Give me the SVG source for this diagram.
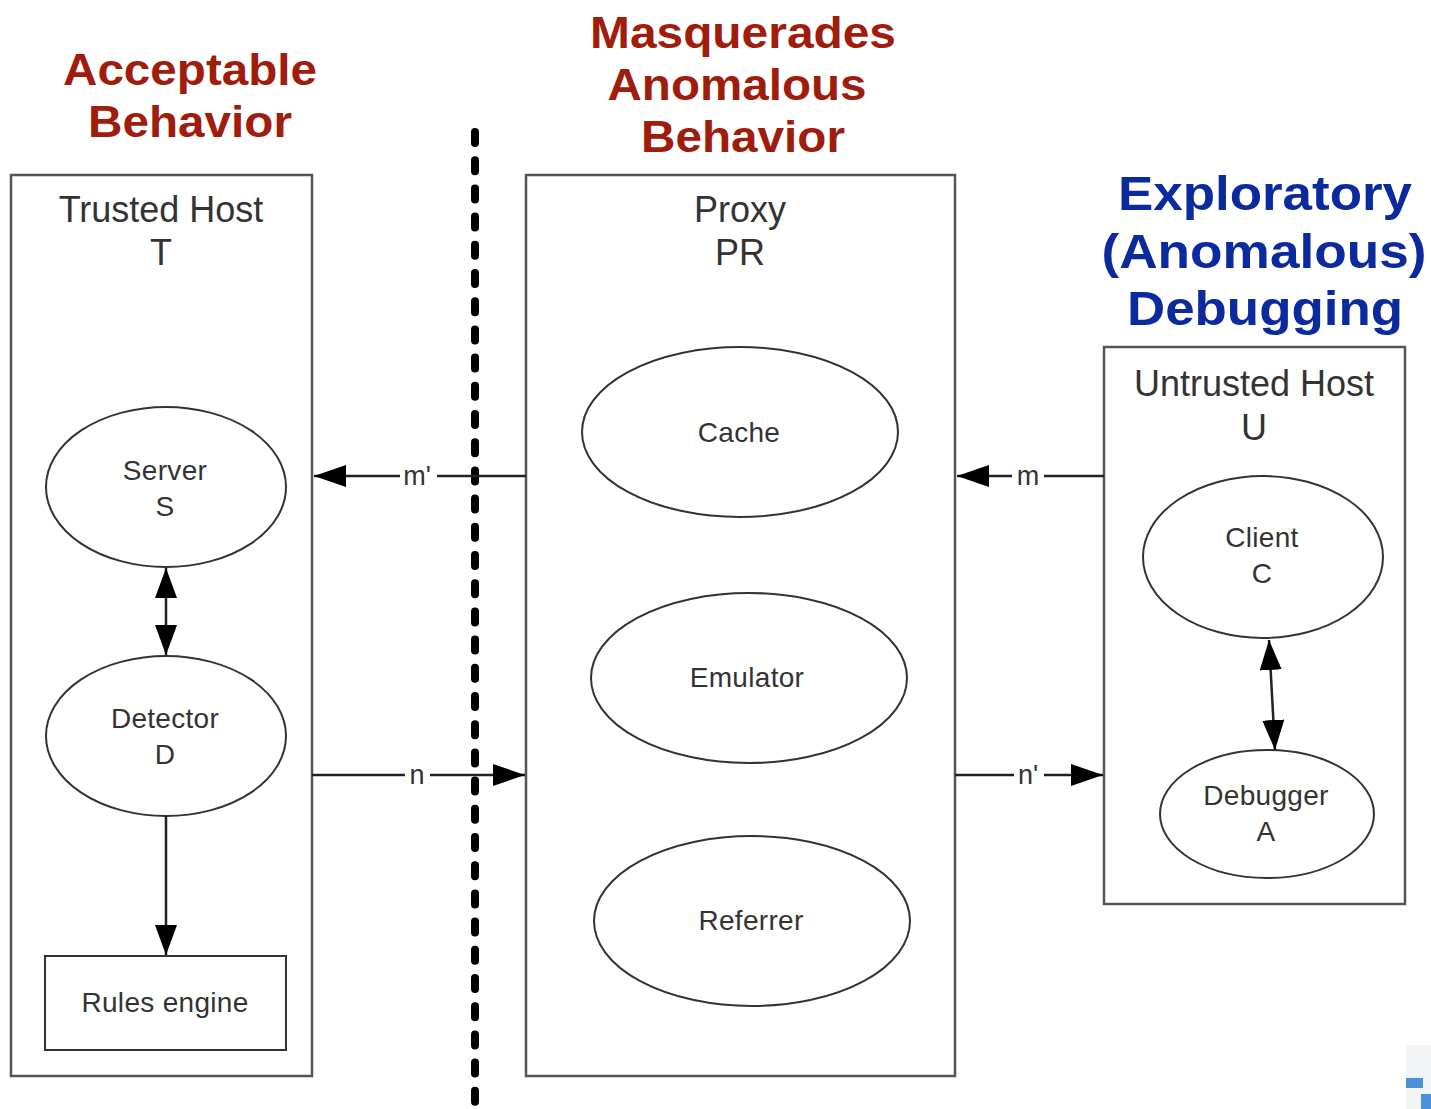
<svg xmlns="http://www.w3.org/2000/svg" width="1431" height="1109" viewBox="0 0 1431 1109">
  <style>
    .box { fill: #fff; stroke: #555; stroke-width: 2.5; }
    .node { fill: #fff; stroke: #333; stroke-width: 2; }
    .title { font-family: "Liberation Sans", Arial, sans-serif; font-size: 36px; fill: #333; text-anchor: middle; }
    .lbl { font-family: "Liberation Sans", Arial, sans-serif; font-size: 28px; fill: #333; text-anchor: middle; letter-spacing: 0.3px; }
    .edge { stroke: #222; stroke-width: 2.5; fill: none; }
    .elbl { font-family: "Liberation Sans", Arial, sans-serif; font-size: 27px; fill: #333; text-anchor: middle; }
    .red { font-family: "Liberation Sans", Arial, sans-serif; font-weight: bold; font-size: 44px; fill: #a01c0c; text-anchor: middle; }
    .blue { font-family: "Liberation Sans", Arial, sans-serif; font-weight: bold; font-size: 49px; fill: #0b2a9e; text-anchor: middle; }
  </style>
  <defs>
    <marker id="arrow" markerUnits="userSpaceOnUse" markerWidth="32" markerHeight="22" refX="32" refY="11" orient="auto-start-reverse">
      <path d="M0,0 L32,11 L0,22 z" fill="#000"/>
    </marker>
    <marker id="arrowV" markerUnits="userSpaceOnUse" markerWidth="30" markerHeight="22" refX="30" refY="11" orient="auto-start-reverse">
      <path d="M0,0 L30,11 L0,22 z" fill="#000"/>
    </marker>
  </defs>

  <rect width="1431" height="1109" fill="#fff"/>

  <!-- headings -->
  <g id="heading-acceptable">
    <text class="red" x="190" y="85" textLength="254" lengthAdjust="spacingAndGlyphs">Acceptable</text>
    <text class="red" x="190" y="137" textLength="204" lengthAdjust="spacingAndGlyphs">Behavior</text>
  </g>
  <g id="heading-masquerades">
    <text class="red" x="743" y="48" textLength="306" lengthAdjust="spacingAndGlyphs">Masquerades</text>
    <text class="red" x="737" y="100" textLength="259" lengthAdjust="spacingAndGlyphs">Anomalous</text>
    <text class="red" x="743" y="152" textLength="204" lengthAdjust="spacingAndGlyphs">Behavior</text>
  </g>
  <g id="heading-exploratory">
    <text class="blue" x="1265" y="210" textLength="294" lengthAdjust="spacingAndGlyphs">Exploratory</text>
    <text class="blue" x="1264" y="268" textLength="325" lengthAdjust="spacingAndGlyphs">(Anomalous)</text>
    <text class="blue" x="1265" y="325" textLength="276" lengthAdjust="spacingAndGlyphs">Debugging</text>
  </g>

  <!-- host containers -->
  <g id="trusted-host">
    <rect class="box" x="11" y="175" width="301" height="901"/>
    <text class="title" x="161" y="222">Trusted Host</text>
    <text class="title" x="161" y="265">T</text>
  </g>
  <g id="proxy">
    <rect class="box" x="526" y="175" width="429" height="901"/>
    <text class="title" x="740" y="222">Proxy</text>
    <text class="title" x="740" y="265">PR</text>
  </g>
  <g id="untrusted-host">
    <rect class="box" x="1104" y="347" width="301" height="557"/>
    <text class="title" x="1254" y="396">Untrusted Host</text>
    <text class="title" x="1254" y="440">U</text>
  </g>

  <!-- trust boundary -->
  <line x1="475" y1="132" x2="475" y2="1105" stroke="#000" stroke-width="8" stroke-linecap="round" stroke-dasharray="11 17.2"/>

  <!-- nodes -->
  <g id="server">
    <ellipse class="node" cx="166" cy="487" rx="120" ry="80"/>
    <text class="lbl" x="165" y="480">Server</text>
    <text class="lbl" x="165" y="516">S</text>
  </g>
  <g id="detector">
    <ellipse class="node" cx="166" cy="736" rx="120" ry="80"/>
    <text class="lbl" x="165" y="728">Detector</text>
    <text class="lbl" x="165" y="764">D</text>
  </g>
  <g id="rules-engine">
    <rect class="node" x="45" y="956" width="241" height="94"/>
    <text class="lbl" x="165" y="1012">Rules engine</text>
  </g>
  <g id="cache">
    <ellipse class="node" cx="740" cy="432" rx="158" ry="85"/>
    <text class="lbl" x="739" y="442">Cache</text>
  </g>
  <g id="emulator">
    <ellipse class="node" cx="749" cy="678" rx="158" ry="85"/>
    <text class="lbl" x="747" y="687">Emulator</text>
  </g>
  <g id="referrer">
    <ellipse class="node" cx="752" cy="921" rx="158" ry="85"/>
    <text class="lbl" x="751" y="930">Referrer</text>
  </g>
  <g id="client">
    <ellipse class="node" cx="1263" cy="557" rx="120" ry="81"/>
    <text class="lbl" x="1262" y="547">Client</text>
    <text class="lbl" x="1262" y="583">C</text>
  </g>
  <g id="debugger">
    <ellipse class="node" cx="1267" cy="814" rx="107" ry="64"/>
    <text class="lbl" x="1266" y="805">Debugger</text>
    <text class="lbl" x="1266" y="841">A</text>
  </g>

  <!-- connectors -->
  <g id="connectors">
    <line class="edge" x1="526" y1="476" x2="314" y2="476" marker-end="url(#arrow)"/>
    <line class="edge" x1="1104" y1="476" x2="957" y2="476" marker-end="url(#arrow)"/>
    <line class="edge" x1="312" y1="775" x2="525" y2="775" marker-end="url(#arrow)"/>
    <line class="edge" x1="955" y1="775" x2="1103" y2="775" marker-end="url(#arrow)"/>
    <line class="edge" x1="166" y1="568" x2="166" y2="655" marker-start="url(#arrowV)" marker-end="url(#arrowV)"/>
    <line class="edge" x1="166" y1="816" x2="166" y2="955" marker-end="url(#arrowV)"/>
    <line class="edge" x1="1269" y1="640" x2="1275" y2="750" marker-start="url(#arrowV)" marker-end="url(#arrowV)"/>

    <rect x="400" y="462" width="37" height="28" fill="#fff"/>
    <text class="elbl" x="417" y="485">m'</text>
    <rect x="1012" y="462" width="32" height="28" fill="#fff"/>
    <text class="elbl" x="1028" y="485">m</text>
    <rect x="405" y="761" width="25" height="28" fill="#fff"/>
    <text class="elbl" x="417" y="784">n</text>
    <rect x="1014" y="761" width="30" height="28" fill="#fff"/>
    <text class="elbl" x="1028" y="784">n'</text>
  </g>

  <!-- small thumbnail in the corner -->
  <g id="corner-thumb">
    <rect x="1406" y="1045" width="25" height="64" fill="#f3f4f6"/>
    <rect x="1406" y="1078" width="17" height="10" fill="#4a90d9"/>
    <rect x="1421" y="1094" width="10" height="15" fill="#4a90d9"/>
  </g>
</svg>
